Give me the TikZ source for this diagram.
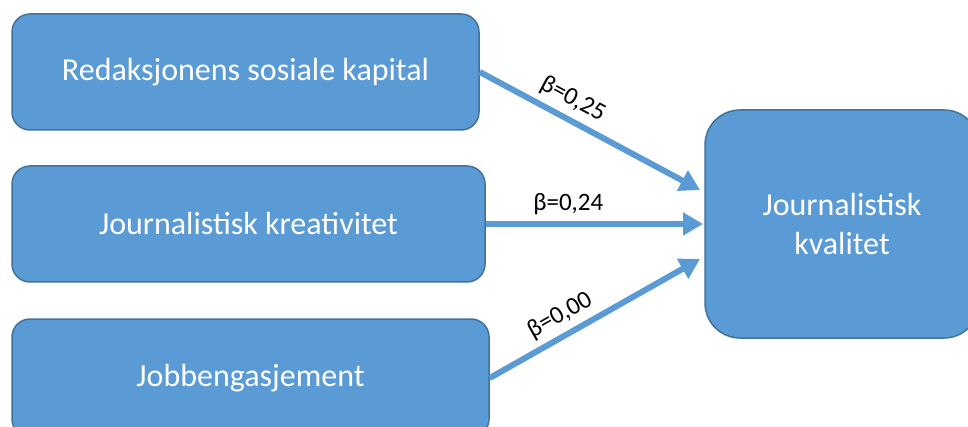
\documentclass[tikz,border=0pt]{standalone}
\usepackage{fontspec}
\setmainfont{Carlito}
\usepackage{xcolor}
\usetikzlibrary{arrows.meta}
\definecolor{boxblue}{HTML}{5B9BD5}
\definecolor{boxedge}{HTML}{41719C}

\begin{document}
\begin{tikzpicture}[x=1pt,y=-1pt,
  every node/.style={inner sep=0pt},
  varbox/.style={draw=boxedge, line width=1.5pt, fill=boxblue, rounded corners=18pt, text=white, align=center, font=\fontsize{32}{39}\selectfont},
  effect/.style={draw=boxblue, line width=6pt, -{Triangle[length=20pt,width=22pt]}},
  beta/.style={pos=0.38, above=6pt, sloped, font=\fontsize{25}{30}\selectfont}]
\useasboundingbox (0,0) rectangle (968,427);
\clip (0,0) rectangle (968,427);
% Boxes
\node[varbox, minimum width=467pt, minimum height=116pt] (redak) at (245.5,72) {Redaksjonens sosiale kapital};
\node[varbox, minimum width=473pt, minimum height=116pt] (kreat) at (248.5,224) {Journalistisk kreativitet};
\node[varbox, minimum width=477pt, minimum height=118pt] (jobb) at (250.5,378) {Jobbengasjement};
\node[varbox, rounded corners=35pt, minimum width=274pt, minimum height=228pt] (kval) at (842,224) {Journalistisk\\kvalitet};
% Tips
\coordinate (t1) at (700,190);
\coordinate (t2) at (703,224);
\coordinate (t3) at (700,259);
% Arrows
\draw[effect] (redak.east) -- (t1) node[beta] {β=0,25};
\draw[effect] (kreat.east) -- (t2) node[beta] {β=0,24};
\draw[effect] (jobb.east) -- (t3) node[beta] {β=0,00};
\end{tikzpicture}
\end{document}
